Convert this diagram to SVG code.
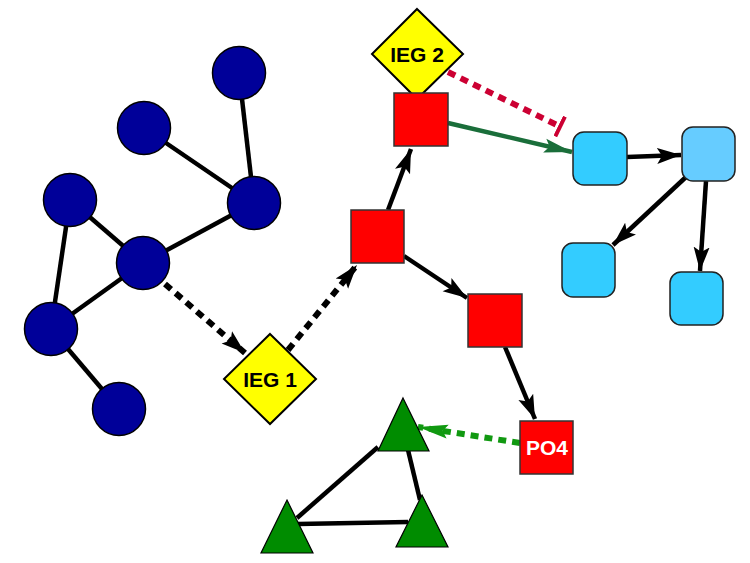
<svg xmlns="http://www.w3.org/2000/svg" width="750" height="563" viewBox="0 0 750 563">
<style>
.edge{stroke:#000;stroke-width:4.5;fill:none}
.dot{stroke:#000;stroke-width:6;stroke-dasharray:8 6;fill:none}
.circ{fill:#000099;stroke:#000;stroke-width:1.5}
.red{fill:#ff0000;stroke:#333;stroke-width:1.5}
.dia{fill:#ffff00;stroke:#000;stroke-width:2}
.cyan{fill:#33ccff;stroke:#222;stroke-width:1.5}
.tri{fill:#008c00;stroke:#000;stroke-width:1.2}
.lbl{font-family:"Liberation Sans",Arial,sans-serif;font-weight:bold;font-size:21px;text-anchor:middle}
</style>
<defs>
<marker id="ah" markerUnits="userSpaceOnUse" markerWidth="26" markerHeight="18" refX="24" refY="9" orient="auto"><path d="M0,1 L24,9 L0,17 L5,9 Z" fill="#000"/></marker>
<marker id="ahg" markerUnits="userSpaceOnUse" markerWidth="30" markerHeight="18" refX="28" refY="9" orient="auto"><path d="M0,2 L28,9 L0,16 L5,9 Z" fill="#1a6e3a"/></marker>
<marker id="ahgl" markerUnits="userSpaceOnUse" markerWidth="32" markerHeight="18" refX="30" refY="9" orient="auto"><path d="M0,2 L30,9 L0,16 L5,9 Z" fill="#119911"/></marker>
<marker id="tbar" markerUnits="userSpaceOnUse" markerWidth="6" markerHeight="22" refX="3" refY="11" orient="auto"><rect x="0" y="0" width="4" height="22" fill="#cc0033"/></marker>
</defs>
<g id="connectors">
<line class="edge" x1="239" y1="73" x2="254" y2="203"/>
<line class="edge" x1="144" y1="128" x2="254" y2="203"/>
<line class="edge" x1="254" y1="203" x2="143" y2="263"/>
<line class="edge" x1="70" y1="200" x2="143" y2="263"/>
<line class="edge" x1="70" y1="200" x2="51" y2="329"/>
<line class="edge" x1="143" y1="263" x2="51" y2="329"/>
<line class="edge" x1="51" y1="329" x2="119" y2="409"/>
<line class="dot" x1="165" y1="284" x2="245" y2="353" marker-end="url(#ah)"/>
<line class="dot" x1="288" y1="350" x2="357" y2="265" marker-end="url(#ah)"/>
<line class="edge" x1="388" y1="210" x2="411" y2="149" marker-end="url(#ah)"/>
<line class="edge" x1="404" y1="256" x2="467" y2="298" marker-end="url(#ah)"/>
<line class="edge" x1="505" y1="347" x2="535" y2="419" marker-end="url(#ah)"/>
<line x1="448" y1="72" x2="561" y2="127" stroke="#cc0033" stroke-width="6" stroke-dasharray="8 6" marker-end="url(#tbar)"/>
<line x1="448" y1="123" x2="572" y2="152" stroke="#1a6e3a" stroke-width="4.5" marker-end="url(#ahg)"/>
<line class="edge" x1="627" y1="157" x2="681" y2="155" marker-end="url(#ah)"/>
<line class="edge" x1="686" y1="177" x2="613" y2="245" marker-end="url(#ah)"/>
<line class="edge" x1="706" y1="181" x2="700" y2="271" marker-end="url(#ah)"/>
<line x1="520" y1="443" x2="418" y2="427" stroke="#119911" stroke-width="6" stroke-dasharray="8 6" marker-end="url(#ahgl)"/>
<line class="edge" x1="378" y1="447" x2="297" y2="518"/>
<line class="edge" x1="408" y1="450" x2="420" y2="500"/>
<line class="edge" x1="298" y1="524" x2="408" y2="522"/>
</g>
<g id="c1"><circle class="circ" cx="239" cy="73" r="26.5"/></g>
<g id="c2"><circle class="circ" cx="144" cy="128" r="26.5"/></g>
<g id="c3"><circle class="circ" cx="254" cy="203" r="26.5"/></g>
<g id="c4"><circle class="circ" cx="70" cy="200" r="26.5"/></g>
<g id="c5"><circle class="circ" cx="143" cy="263" r="26.5"/></g>
<g id="c6"><circle class="circ" cx="51" cy="329" r="26.5"/></g>
<g id="c7"><circle class="circ" cx="119" cy="409" r="26.5"/></g>
<g id="ieg1"><polygon class="dia" points="270,334 316,379 270,424 224,379"/><text class="lbl" x="270" y="387">IEG 1</text></g>
<g id="ieg2"><polygon class="dia" points="417,9 463,54 417,99 372,54"/><text class="lbl" x="417" y="62">IEG 2</text></g>
<g id="r1"><rect class="red" x="351" y="210" width="53" height="53"/></g>
<g id="r2"><rect class="red" x="394" y="93" width="54" height="53"/></g>
<g id="r3"><rect class="red" x="468" y="294" width="54" height="53"/></g>
<g id="po4"><rect class="red" x="520" y="421" width="53" height="53"/><text class="lbl" x="547" y="455" fill="#fff">PO4</text></g>
<g id="b1"><rect class="cyan" x="573" y="132" width="54" height="53" rx="11"/></g>
<g id="b2"><rect class="cyan" x="682" y="127" width="53" height="54" rx="11" style="fill:#66ccff"/></g>
<g id="b3"><rect class="cyan" x="562" y="243" width="53" height="54" rx="11"/></g>
<g id="b4"><rect class="cyan" x="670" y="272" width="53" height="53" rx="11"/></g>
<g id="t1"><polygon class="tri" points="403,398 429,451 378,451"/></g>
<g id="t2"><polygon class="tri" points="287,500 313,553 261,553"/></g>
<g id="t3"><polygon class="tri" points="422,495 448,547 396,547"/></g>
</svg>
